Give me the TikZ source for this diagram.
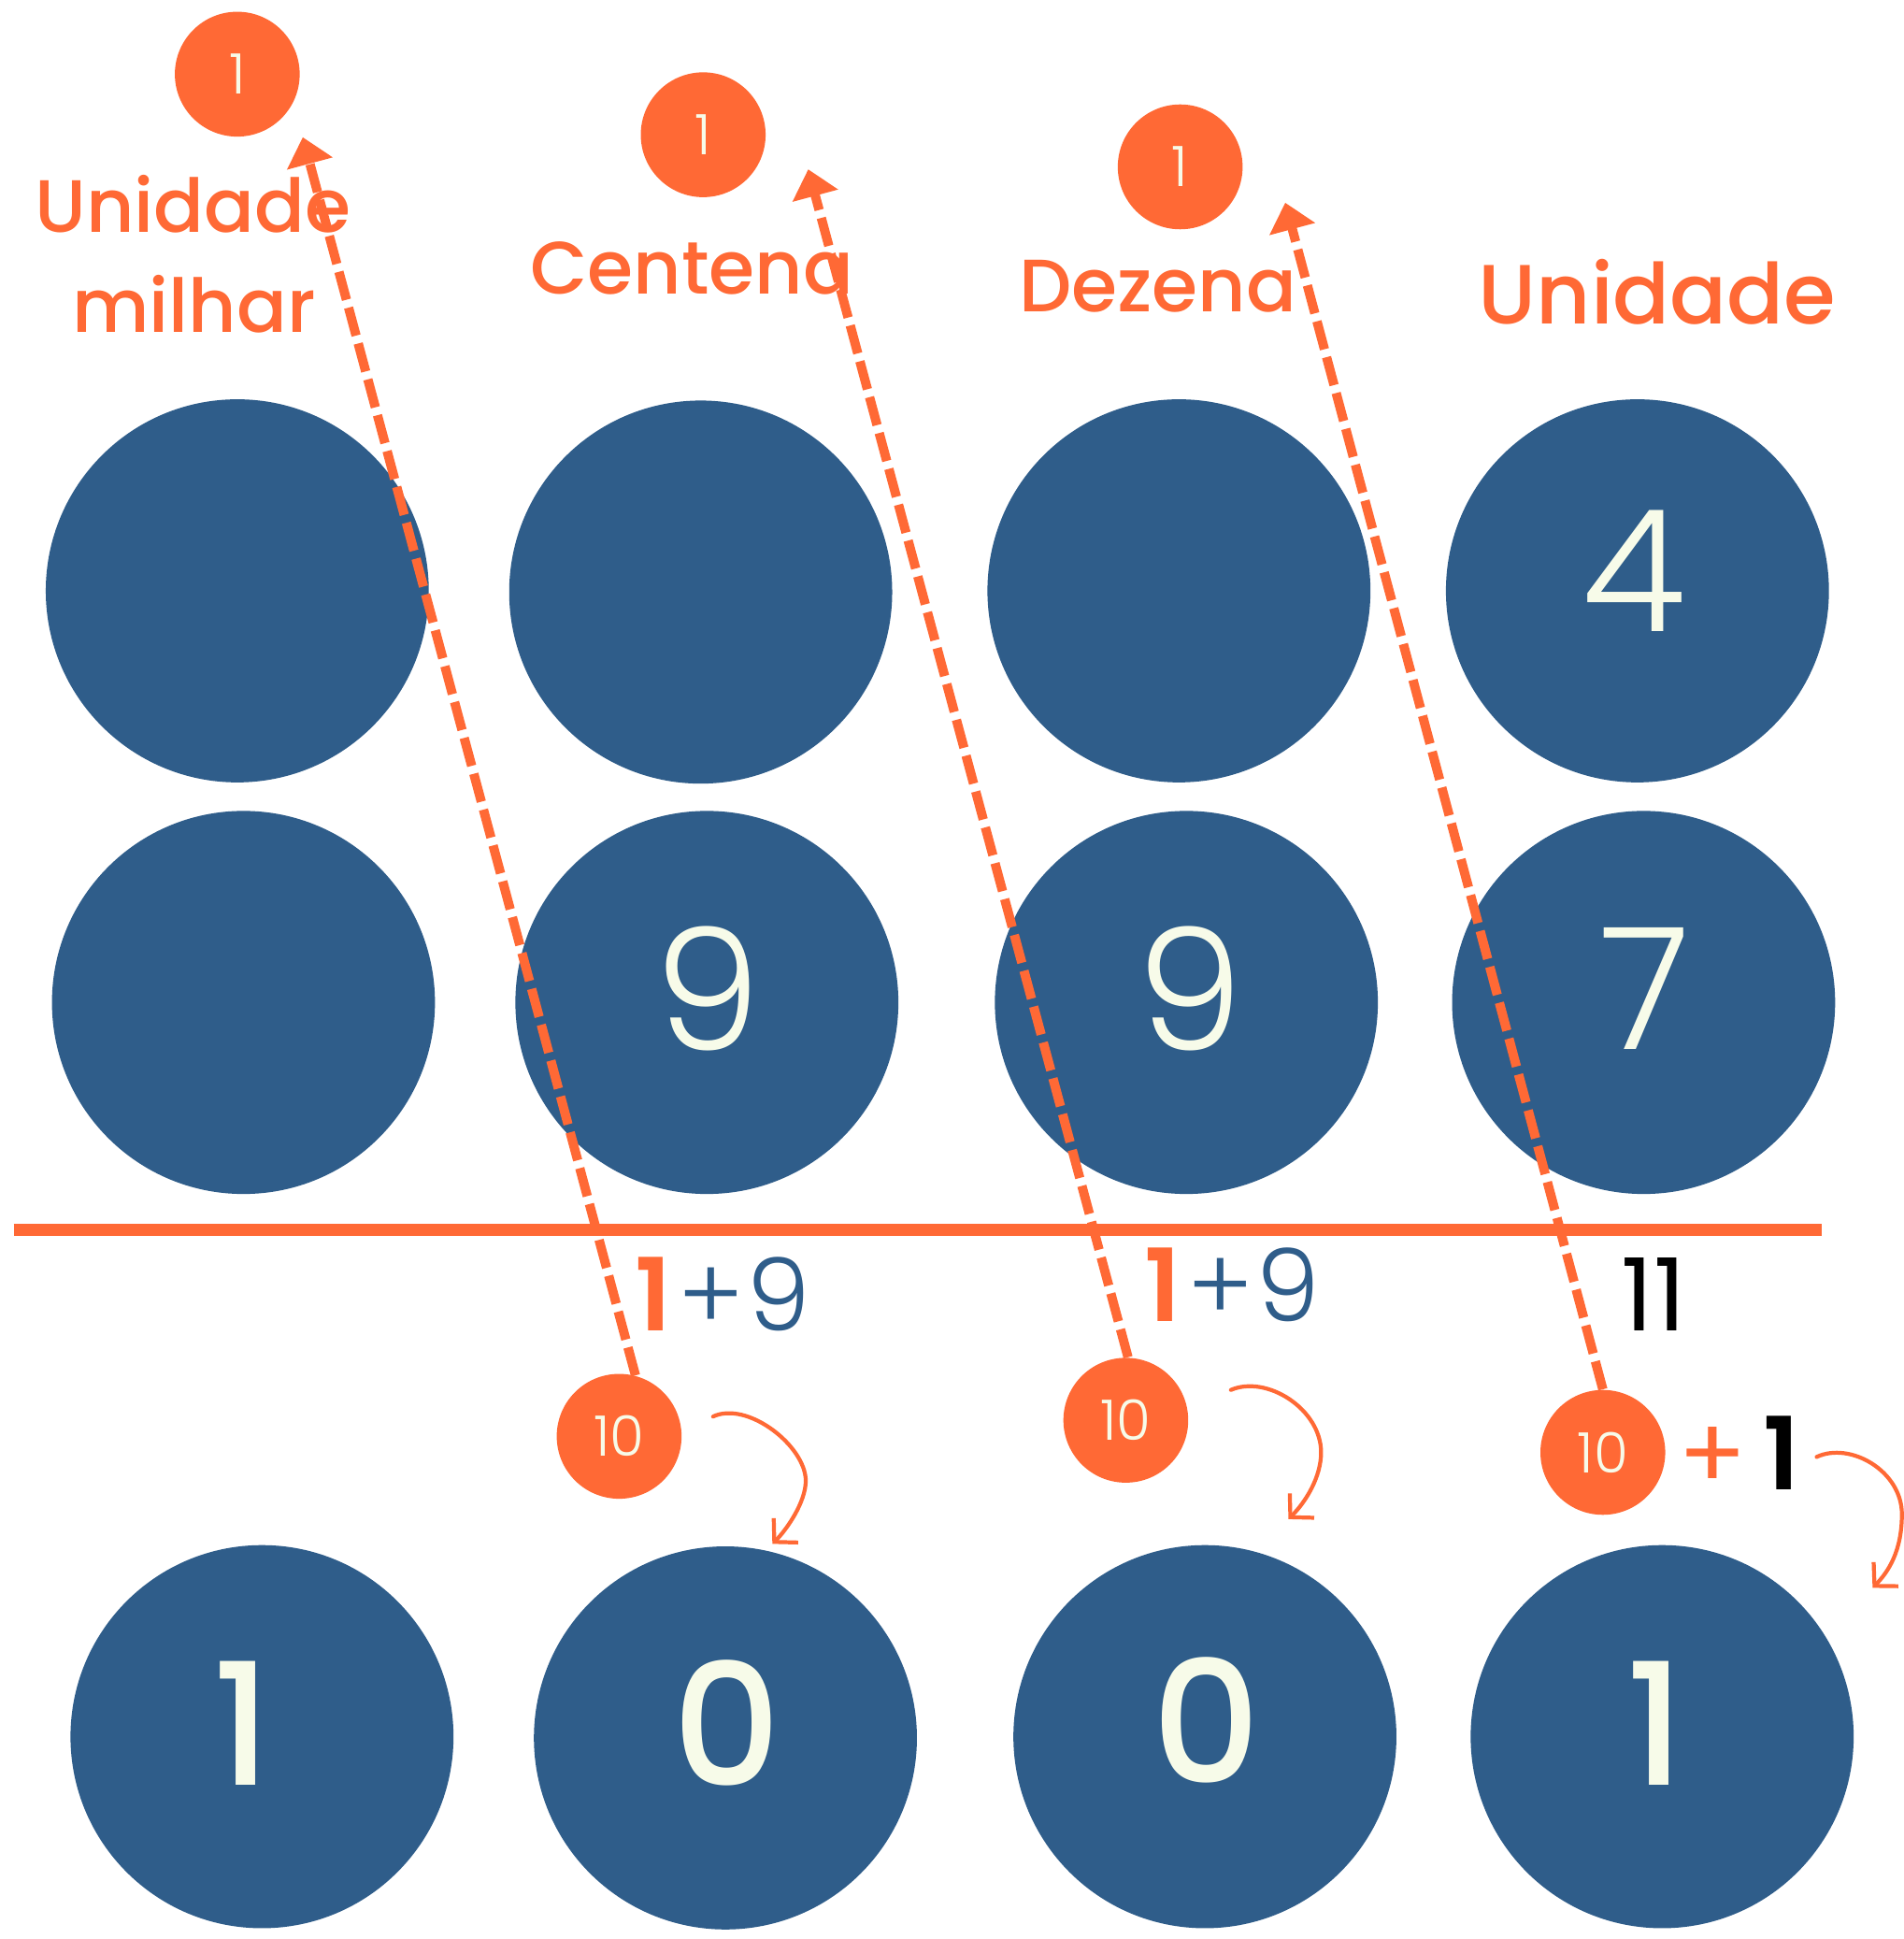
\documentclass[tikz,border=0pt]{standalone}
\usepackage{fontspec}
\setmainfont{Poppins}
\newfontfamily\popmed{Poppins Medium}
\newfontfamily\poplight{Poppins Light}
\newfontfamily\popsemi{Poppins SemiBold}
\usetikzlibrary{arrows.meta}
\definecolor{bl}{HTML}{2F5D8A}
\definecolor{og}{HTML}{FF6935}
\definecolor{cr}{HTML}{F7FBE9}
\newcommand\fdig{\poplight\fontsize{51.7}{60}\selectfont}
\newcommand\fdigm{\popmed\fontsize{51.7}{60}\selectfont}
\newcommand\fsmall{\poplight\fontsize{17}{20}\selectfont}
\newcommand\flab{\popmed\fontsize{22.6}{28}\selectfont}
\newcommand\flabb{\popmed\fontsize{25.6}{32}\selectfont}
\newcommand\fsum{\poplight\fontsize{30.7}{36}\selectfont}
\begin{document}
\begin{tikzpicture}[x=0.3762pt,y=-0.3762pt,
  big/.style={circle,fill=bl,minimum size=116.6pt,inner sep=0pt},
  dot/.style={circle,fill=og,minimum size=38pt,inner sep=0pt,text=cr,font=\fsmall},
  dig/.style={anchor=base,text=cr,font=\fdig,inner sep=0pt},
  lab/.style={anchor=base,text=og,font=\flab,inner sep=0pt},
  sum/.style={anchor=base,font=\fsum,inner sep=0pt},
  carry/.style={draw=og,line width=2.82pt,dash pattern=on 8.8pt off 2.5pt,-{Triangle[length=8.3pt,width=13.9pt]}},
  curl/.style={draw=og,line width=1.2pt,line cap=round,-{Straight Barb[length=5pt,width=10.5pt]}},
  rule/.style={draw=og,line width=3.76pt}
]
\fill[white] (0,0) rectangle (1540,1568.7);
\useasboundingbox (0,0) rectangle (1540,1568.7);

% big circles
\node[big] (a1) at (192,478) {};
\node[big] (a2) at (567,479) {};
\node[big] (a3) at (954,478) {};
\node[big] (a4) at (1325,478) {};
\node[big] (b1) at (197,811) {};
\node[big] (b2) at (572,811) {};
\node[big] (b3) at (960,811) {};
\node[big] (b4) at (1330,811) {};
\node[big] (r1) at (212,1405) {};
\node[big] (r2) at (587,1406) {};
\node[big] (r3) at (975,1405) {};
\node[big] (r4) at (1345,1405) {};

% digits
\node[dig] (t4) at (1322,511) {4};
\node[dig] (t9a) at (573,850) {9};
\node[dig] (t9b) at (963,850) {9};
\node[dig] (t7) at (1331,849) {7};
\node[dig,font=\fdigm] (s1a) at (196,1444) {1};
\node[dig,font=\fdigm] (s0a) at (588,1445) {0};
\node[dig,font=\fdigm] (s0b) at (976,1443) {0};
\node[dig,font=\fdigm] (s1b) at (1340,1444) {1};

% labels
\node[lab] (l1) at (156,188) {Unidade};
\node[lab] (l2) at (157,269) {milhar};
\node[lab] (l3) at (560,238) {Centena};
\node[lab] (l4) at (937,252) {Dezena};
\node[lab,font=\flabb] (l5) at (1341,262) {Unidade};

% rule
\coordinate (hl) at (11,995);
\coordinate (hr) at (1474,995);
\draw[rule] (hl) -- (hr);

% small circles
\node[dot] (u1) at (192,60) {1};
\node[dot] (u2) at (569,109) {1};
\node[dot] (u3) at (955,135) {1};
\node[dot] (ten1) at (501,1162) {10};
\node[dot] (ten2) at (911,1149) {10};
\node[dot] (ten3) at (1297,1175) {10};

% carry arrows
\coordinate (h1) at (245,111);
\coordinate (h2) at (654,137);
\coordinate (h3) at (1040,164);
\draw[carry] (ten1.75) -- (h1);
\draw[carry] (ten2.88) -- (h2);
\draw[carry] (ten3.90) -- (h3);

% sums
\node[sum,text=bl] (sum1) at (585,1077) {{\popsemi\color{og}1}\kern2pt+\kern1pt9};
\node[sum,text=bl] (sum2) at (997,1069) {{\popsemi\color{og}1}\kern2pt+\kern1pt9};
\node[sum,font=\fsum\fontspec{Poppins}] (sum3) at (1338,1077) {11};
\node[sum,text=og,font=\fsum\fontspec{Poppins}] (plus) at (1407,1205) {+\kern5pt{\popsemi\color{black}1}};

% curly arrows
\coordinate (c1s) at (577,1146);
\coordinate (c1m) at (652,1198);
\coordinate (c1e) at (625,1249);
\draw[curl] (c1s) .. controls (605,1133) and (652,1170) .. (c1m) .. controls (652,1215) and (637,1237) .. (c1e);
\coordinate (c2s) at (996,1124.5);
\coordinate (c2m) at (1069,1175);
\coordinate (c2e) at (1042.6,1229);
\draw[curl] (c2s) .. controls (1025,1112) and (1069,1140) .. (c2m) .. controls (1069,1195) and (1056.6,1215) .. (c2e);
\coordinate (c3s) at (1470,1178.7);
\coordinate (c3m) at (1539,1225);
\coordinate (c3e) at (1515.3,1284.6);
\draw[curl] (c3s) .. controls (1497,1166) and (1539,1190) .. (c3m) .. controls (1539,1255) and (1528,1271.6) .. (c3e);
\end{tikzpicture}
\end{document}
